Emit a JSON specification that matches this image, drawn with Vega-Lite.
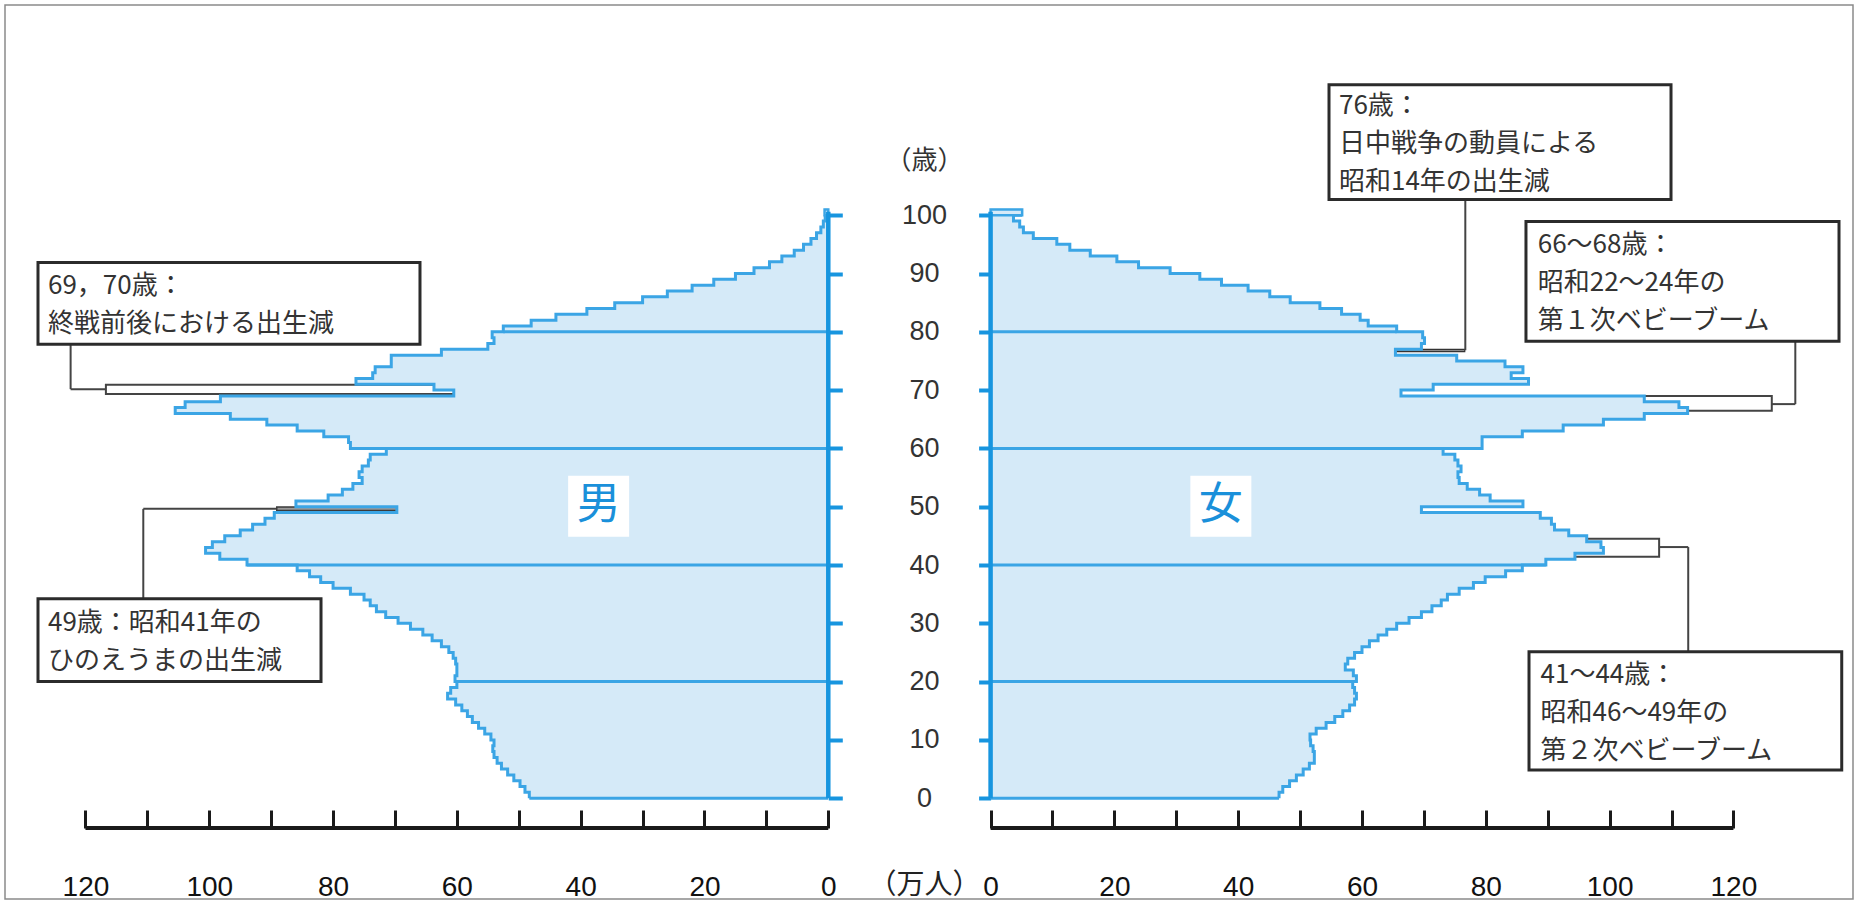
{
  "$schema": "https://vega.github.io/schema/vega-lite/v6.json",
  "width": 1858,
  "height": 901,
  "autosize": {"type": "fit", "contains": "padding"},
  "padding": {"left": 5, "top": 5, "right": 5, "bottom": 0},
  "background": "white",
  "config": {
    "view": {"stroke": "#8a8a8a", "strokeWidth": 1.5},
    "axis": {"grid": false, "domain": false, "labelFont": "Liberation Sans", "titleFont": "Noto Sans CJK JP"}
  },
  "datasets": {
    "pop": [
      {"age": 0, "male": 48.3, "female": 46.6},
      {"age": 1, "male": 49.0, "female": 47.2},
      {"age": 2, "male": 49.8, "female": 48.3},
      {"age": 3, "male": 50.8, "female": 49.4},
      {"age": 4, "male": 51.8, "female": 50.5},
      {"age": 5, "male": 52.8, "female": 51.5},
      {"age": 6, "male": 53.5, "female": 52.3},
      {"age": 7, "male": 54.0, "female": 52.3},
      {"age": 8, "male": 54.2, "female": 52.1},
      {"age": 9, "male": 54.0, "female": 51.7},
      {"age": 10, "male": 54.5, "female": 51.6},
      {"age": 11, "male": 55.5, "female": 52.6},
      {"age": 12, "male": 56.5, "female": 54.2},
      {"age": 13, "male": 57.5, "female": 55.6},
      {"age": 14, "male": 58.3, "female": 56.9},
      {"age": 15, "male": 59.2, "female": 58.0},
      {"age": 16, "male": 60.2, "female": 58.8},
      {"age": 17, "male": 61.5, "female": 59.1},
      {"age": 18, "male": 61.0, "female": 58.8},
      {"age": 19, "male": 60.0, "female": 58.5},
      {"age": 20, "male": 60.3, "female": 59.1},
      {"age": 21, "male": 60.0, "female": 58.6},
      {"age": 22, "male": 60.0, "female": 57.3},
      {"age": 23, "male": 60.2, "female": 57.7},
      {"age": 24, "male": 60.6, "female": 58.8},
      {"age": 25, "male": 61.3, "female": 60.0},
      {"age": 26, "male": 62.5, "female": 61.2},
      {"age": 27, "male": 64.0, "female": 62.6},
      {"age": 28, "male": 65.5, "female": 64.0},
      {"age": 29, "male": 67.5, "female": 65.6},
      {"age": 30, "male": 69.5, "female": 67.6},
      {"age": 31, "male": 71.5, "female": 69.6},
      {"age": 32, "male": 73.0, "female": 71.3},
      {"age": 33, "male": 74.0, "female": 72.8},
      {"age": 34, "male": 75.0, "female": 73.8},
      {"age": 35, "male": 77.2, "female": 75.7},
      {"age": 36, "male": 80.0, "female": 78.0},
      {"age": 37, "male": 82.0, "female": 79.9},
      {"age": 38, "male": 83.8, "female": 83.2},
      {"age": 39, "male": 85.8, "female": 85.9},
      {"age": 40, "male": 93.9, "female": 89.7},
      {"age": 41, "male": 98.3, "female": 94.4},
      {"age": 42, "male": 100.6, "female": 99.0},
      {"age": 43, "male": 99.5, "female": 98.6},
      {"age": 44, "male": 97.5, "female": 96.3},
      {"age": 45, "male": 95.0, "female": 93.4},
      {"age": 46, "male": 93.0, "female": 91.1},
      {"age": 47, "male": 91.0, "female": 90.6},
      {"age": 48, "male": 89.5, "female": 88.8},
      {"age": 49, "male": 69.7, "female": 69.6},
      {"age": 50, "male": 86.0, "female": 86.0},
      {"age": 51, "male": 80.8, "female": 80.7},
      {"age": 52, "male": 78.5, "female": 79.0},
      {"age": 53, "male": 76.8, "female": 77.0},
      {"age": 54, "male": 75.3, "female": 75.7},
      {"age": 55, "male": 75.8, "female": 75.5},
      {"age": 56, "male": 75.3, "female": 76.0},
      {"age": 57, "male": 74.3, "female": 75.5},
      {"age": 58, "male": 74.0, "female": 75.0},
      {"age": 59, "male": 71.4, "female": 73.1},
      {"age": 60, "male": 77.2, "female": 79.4},
      {"age": 61, "male": 77.5, "female": 79.4},
      {"age": 62, "male": 81.5, "female": 85.9},
      {"age": 63, "male": 85.8, "female": 92.5},
      {"age": 64, "male": 90.7, "female": 99.0},
      {"age": 65, "male": 96.6, "female": 105.6},
      {"age": 66, "male": 105.5, "female": 112.6},
      {"age": 67, "male": 103.9, "female": 111.2},
      {"age": 68, "male": 98.2, "female": 105.6},
      {"age": 69, "male": 60.5, "female": 66.3},
      {"age": 70, "male": 63.7, "female": 71.5},
      {"age": 71, "male": 76.3, "female": 86.9},
      {"age": 72, "male": 73.6, "female": 84.1},
      {"age": 73, "male": 73.2, "female": 86.0},
      {"age": 74, "male": 70.6, "female": 83.1},
      {"age": 75, "male": 70.6, "female": 75.3},
      {"age": 76, "male": 62.5, "female": 65.4},
      {"age": 77, "male": 55.0, "female": 69.6},
      {"age": 78, "male": 54.0, "female": 70.1},
      {"age": 79, "male": 54.3, "female": 69.8},
      {"age": 80, "male": 52.5, "female": 65.6},
      {"age": 81, "male": 48.0, "female": 61.0},
      {"age": 82, "male": 44.0, "female": 59.7},
      {"age": 83, "male": 39.0, "female": 56.7},
      {"age": 84, "male": 34.5, "female": 53.2},
      {"age": 85, "male": 30.0, "female": 48.4},
      {"age": 86, "male": 26.0, "female": 45.1},
      {"age": 87, "male": 22.0, "female": 41.6},
      {"age": 88, "male": 18.5, "female": 37.3},
      {"age": 89, "male": 15.0, "female": 33.8},
      {"age": 90, "male": 12.0, "female": 29.0},
      {"age": 91, "male": 9.5, "female": 23.9},
      {"age": 92, "male": 7.5, "female": 20.4},
      {"age": 93, "male": 5.5, "female": 16.1},
      {"age": 94, "male": 4.0, "female": 12.8},
      {"age": 95, "male": 2.8, "female": 10.7},
      {"age": 96, "male": 1.9, "female": 6.9},
      {"age": 97, "male": 1.2, "female": 5.3},
      {"age": 98, "male": 0.8, "female": 4.7},
      {"age": 99, "male": 0.5, "female": 3.7},
      {"age": 100, "male": 0.6, "female": 5.1}
    ]
  },
  "layer": [
    {
      "layer": [
        {
          "data": {"name": "pop"},
          "mark": {"type": "line", "interpolate": "step-before", "stroke": "#3ba5e5", "strokeWidth": 3, "opacity": 0},
          "encoding": {
            "x": {
              "field": "male", "type": "quantitative",
              "scale": {"domain": [133.0, -165.54], "nice": false, "zero": false},
              "axis": {
                "orient": "bottom", "offset": -71, "title": null,
                "values": [0, 10, 20, 30, 40, 50, 60, 70, 80, 90, 100, 110, 120],
                "tickSize": -18, "tickWidth": 3, "tickColor": "#1a1a1a",
                "labelExpr": "datum.value % 20 === 0 ? datum.label : ''",
                "labelFontSize": 28, "labelColor": "#111111", "labelPadding": 63,
                "labelFlush": false, "labelOverlap": false, "domain": false, "grid": false
              }
            },
            "y": {
              "field": "age", "type": "quantitative",
              "scale": {"domain": [-17.29, 136.06], "nice": false, "zero": false},
              "axis": {
                "orient": "right", "offset": -1024.7, "title": null,
                "values": [0, 10, 20, 30, 40, 50, 60, 70, 80, 90, 100],
                "tickSize": 14, "tickWidth": 4, "tickColor": "#1795df",
                "labels": false, "domain": false, "grid": false
              }
            },
            "order": {"field": "age", "type": "quantitative"}
          }
        },
        {
          "data": {"values": [{}]},
          "mark": {"type": "rect", "fill": "white", "stroke": "#444444", "strokeWidth": 2},
          "encoding": {
            "x": {"datum": 60.2, "type": "quantitative"},
            "x2": {"datum": 116.7},
            "y": {"datum": 69.35, "type": "quantitative"},
            "y2": {"datum": 70.9}
          }
        },
        {
          "data": {"values": [{}]},
          "mark": {"type": "rect", "fill": "#9a9a9a", "stroke": "#3a3a3a", "strokeWidth": 1.5},
          "encoding": {
            "x": {"datum": 69.5, "type": "quantitative"},
            "x2": {"datum": 89.1},
            "y": {"datum": 49.35, "type": "quantitative"},
            "y2": {"datum": 49.95}
          }
        },
        {
          "data": {"name": "pop"},
          "mark": {"type": "rect", "fill": "#d5eaf8", "strokeWidth": 0, "y2Offset": -6.8},
          "encoding": {
            "x": {"field": "male", "type": "quantitative"},
            "x2": {"datum": 0},
            "y": {"field": "age", "type": "quantitative"},
            "y2": {"field": "age"}
          }
        },
        {
          "data": {"name": "pop"},
          "mark": {"type": "line", "interpolate": "step-before", "stroke": "#3ba5e5", "strokeWidth": 3},
          "encoding": {
            "x": {"field": "male", "type": "quantitative"},
            "y": {"field": "age", "type": "quantitative"},
            "order": {"field": "age", "type": "quantitative"}
          }
        },
        {
          "data": {"name": "pop"},
          "transform": [{"filter": "datum.age == 100"}],
          "mark": {"type": "rect", "fill": "#d5eaf8", "stroke": "#3ba5e5", "strokeWidth": 2.5},
          "encoding": {
            "x": {"field": "male", "type": "quantitative"},
            "x2": {"datum": 0},
            "y": {"field": "age", "type": "quantitative"},
            "y2": {"datum": 101}
          }
        },
        {
          "data": {"name": "pop"},
          "transform": [{"filter": "datum.age % 20 == 0 && datum.age <= 80"}],
          "mark": {"type": "rule", "stroke": "#3ba5e5", "strokeWidth": 3},
          "encoding": {
            "x": {"field": "male", "type": "quantitative"},
            "x2": {"datum": 0},
            "y": {"field": "age", "type": "quantitative"}
          }
        },
        {
          "data": {"values": [{}]},
          "mark": {"type": "rule", "stroke": "#1795df", "strokeWidth": 4.5},
          "encoding": {
            "x": {"datum": 0, "type": "quantitative"},
            "y": {"datum": 0, "type": "quantitative"},
            "y2": {"datum": 100.6}
          }
        },
        {
          "data": {"values": [{}]},
          "mark": {"type": "rule", "stroke": "#1a1a1a", "strokeWidth": 4},
          "encoding": {
            "x": {"datum": 0, "type": "quantitative"},
            "x2": {"datum": 120},
            "y": {"datum": -5.13, "type": "quantitative"}
          }
        },
        {
          "data": {"values": [{}]},
          "mark": {"type": "rule", "stroke": "#444444", "strokeWidth": 2},
          "encoding": {
            "x": {"datum": 122.4, "type": "quantitative"},
            "y": {"datum": 77.87, "type": "quantitative"},
            "y2": {"datum": 70.17}
          }
        },
        {
          "data": {"values": [{}]},
          "mark": {"type": "rule", "stroke": "#444444", "strokeWidth": 2},
          "encoding": {
            "x": {"datum": 122.4, "type": "quantitative"},
            "x2": {"datum": 116.7},
            "y": {"datum": 70.17, "type": "quantitative"}
          }
        },
        {
          "data": {"values": [{}]},
          "mark": {"type": "rule", "stroke": "#444444", "strokeWidth": 2},
          "encoding": {
            "x": {"datum": 110.66, "type": "quantitative"},
            "y": {"datum": 34.23, "type": "quantitative"},
            "y2": {"datum": 49.63}
          }
        },
        {
          "data": {"values": [{}]},
          "mark": {"type": "rule", "stroke": "#444444", "strokeWidth": 2},
          "encoding": {
            "x": {"datum": 110.66, "type": "quantitative"},
            "x2": {"datum": 89.1},
            "y": {"datum": 49.63, "type": "quantitative"}
          }
        },
        {
          "data": {"values": [{}]},
          "mark": {"type": "rect", "fill": "white", "stroke": "#2b2b2b", "strokeWidth": 3},
          "encoding": {
            "x": {"datum": 127.67, "type": "quantitative"},
            "x2": {"datum": 65.96},
            "y": {"datum": 91.9, "type": "quantitative"},
            "y2": {"datum": 77.87}
          }
        },
        {
          "data": {"values": [{}]},
          "mark": {"type": "rect", "fill": "white", "stroke": "#2b2b2b", "strokeWidth": 3},
          "encoding": {
            "x": {"datum": 127.67, "type": "quantitative"},
            "x2": {"datum": 81.95},
            "y": {"datum": 34.23, "type": "quantitative"},
            "y2": {"datum": 20.02}
          }
        },
        {
          "data": {"values": [{}]},
          "mark": {"type": "text", "text": ["69，70歳：", "終戦前後における出生減"], "align": "left", "baseline": "alphabetic", "font": "Noto Sans CJK JP", "fontSize": 26, "lineHeight": 38, "fill": "#333333"},
          "encoding": {
            "x": {"datum": 126.06, "type": "quantitative"},
            "y": {"datum": 86.5, "type": "quantitative"}
          }
        },
        {
          "data": {"values": [{}]},
          "mark": {"type": "text", "text": ["49歳：昭和41年の", "ひのえうまの出生減"], "align": "left", "baseline": "alphabetic", "font": "Noto Sans CJK JP", "fontSize": 26, "lineHeight": 38, "fill": "#333333"},
          "encoding": {
            "x": {"datum": 126.06, "type": "quantitative"},
            "y": {"datum": 28.73, "type": "quantitative"}
          }
        },
        {
          "data": {"values": [{}]},
          "mark": {"type": "point", "shape": "square", "size": 3721, "filled": true, "fill": "white", "opacity": 1, "strokeWidth": 0},
          "encoding": {
            "x": {"datum": 37.1, "type": "quantitative"},
            "y": {"datum": 50.06, "type": "quantitative"}
          }
        },
        {
          "data": {"values": [{}]},
          "mark": {"type": "text", "text": "男", "align": "center", "baseline": "middle", "font": "Noto Sans CJK JP", "fontSize": 44, "fill": "#1a90da"},
          "encoding": {
            "x": {"datum": 37.1, "type": "quantitative"},
            "y": {"datum": 50.06, "type": "quantitative"}
          }
        }
      ]
    },
    {
      "layer": [
        {
          "data": {"name": "pop"},
          "mark": {"type": "line", "interpolate": "step-before", "stroke": "#3ba5e5", "strokeWidth": 3, "opacity": 0},
          "encoding": {
            "x": {
              "field": "female", "type": "quantitative",
              "scale": {"domain": [-159.22, 139.32], "nice": false, "zero": false},
              "axis": {
                "orient": "bottom", "offset": -71,
                "title": "（万人）", "titleX": 919, "titleY": 57, "titleAngle": 0,
                "titleAlign": "center", "titleBaseline": "middle", "titleFontSize": 28,
                "titleFontWeight": "normal", "titleColor": "#222222", "titleFont": "Noto Sans CJK JP",
                "values": [0, 10, 20, 30, 40, 50, 60, 70, 80, 90, 100, 110, 120],
                "tickSize": -18, "tickWidth": 3, "tickColor": "#1a1a1a",
                "labelExpr": "datum.value % 20 === 0 ? datum.label : ''",
                "labelFontSize": 28, "labelColor": "#111111", "labelPadding": 63,
                "labelFlush": false, "labelOverlap": false, "domain": false, "grid": false
              }
            },
            "y": {
              "field": "age", "type": "quantitative",
              "scale": {"domain": [-17.29, 136.06], "nice": false, "zero": false},
              "axis": {
                "orient": "left", "offset": -985.6,
                "title": "（歳）", "titleX": -66.6, "titleY": 155, "titleAngle": 0,
                "titleAlign": "center", "titleBaseline": "middle", "titleFontSize": 26,
                "titleFontWeight": "normal", "titleColor": "#333333", "titleFont": "Noto Sans CJK JP",
                "values": [0, 10, 20, 30, 40, 50, 60, 70, 80, 90, 100],
                "tickSize": 12, "tickWidth": 4, "tickColor": "#1795df",
                "labelAlign": "center", "labelBaseline": "middle", "labelPadding": 54.6,
                "labelFontSize": 27, "labelColor": "#333333", "domain": false, "grid": false
              }
            },
            "order": {"field": "age", "type": "quantitative"}
          }
        },
        {
          "data": {"values": [{}]},
          "mark": {"type": "rect", "fill": "#8a8a8a", "stroke": "#333333", "strokeWidth": 1.2},
          "encoding": {
            "x": {"datum": 65.2, "type": "quantitative"},
            "x2": {"datum": 76.6},
            "y": {"datum": 76.6, "type": "quantitative"},
            "y2": {"datum": 77.0}
          }
        },
        {
          "data": {"values": [{}]},
          "mark": {"type": "rect", "fill": "white", "stroke": "#444444", "strokeWidth": 2},
          "encoding": {
            "x": {"datum": 105.3, "type": "quantitative"},
            "x2": {"datum": 126.2},
            "y": {"datum": 66.46, "type": "quantitative"},
            "y2": {"datum": 68.97}
          }
        },
        {
          "data": {"values": [{}]},
          "mark": {"type": "rect", "fill": "white", "stroke": "#444444", "strokeWidth": 2},
          "encoding": {
            "x": {"datum": 94.2, "type": "quantitative"},
            "x2": {"datum": 108.0},
            "y": {"datum": 41.4, "type": "quantitative"},
            "y2": {"datum": 44.5}
          }
        },
        {
          "data": {"name": "pop"},
          "mark": {"type": "rect", "fill": "#d5eaf8", "strokeWidth": 0, "y2Offset": -6.8},
          "encoding": {
            "x": {"field": "female", "type": "quantitative"},
            "x2": {"datum": 0},
            "y": {"field": "age", "type": "quantitative"},
            "y2": {"field": "age"}
          }
        },
        {
          "data": {"name": "pop"},
          "mark": {"type": "line", "interpolate": "step-before", "stroke": "#3ba5e5", "strokeWidth": 3},
          "encoding": {
            "x": {"field": "female", "type": "quantitative"},
            "y": {"field": "age", "type": "quantitative"},
            "order": {"field": "age", "type": "quantitative"}
          }
        },
        {
          "data": {"name": "pop"},
          "transform": [{"filter": "datum.age == 100"}],
          "mark": {"type": "rect", "fill": "#d5eaf8", "stroke": "#3ba5e5", "strokeWidth": 2.5},
          "encoding": {
            "x": {"field": "female", "type": "quantitative"},
            "x2": {"datum": 0},
            "y": {"field": "age", "type": "quantitative"},
            "y2": {"datum": 101}
          }
        },
        {
          "data": {"name": "pop"},
          "transform": [{"filter": "datum.age % 20 == 0 && datum.age <= 80"}],
          "mark": {"type": "rule", "stroke": "#3ba5e5", "strokeWidth": 3},
          "encoding": {
            "x": {"field": "female", "type": "quantitative"},
            "x2": {"datum": 0},
            "y": {"field": "age", "type": "quantitative"}
          }
        },
        {
          "data": {"values": [{}]},
          "mark": {"type": "rule", "stroke": "#1795df", "strokeWidth": 4.5},
          "encoding": {
            "x": {"datum": 0, "type": "quantitative"},
            "y": {"datum": 0, "type": "quantitative"},
            "y2": {"datum": 100.6}
          }
        },
        {
          "data": {"values": [{}]},
          "mark": {"type": "rule", "stroke": "#1a1a1a", "strokeWidth": 4},
          "encoding": {
            "x": {"datum": 0, "type": "quantitative"},
            "x2": {"datum": 120},
            "y": {"datum": -5.13, "type": "quantitative"}
          }
        },
        {
          "data": {"values": [{}]},
          "mark": {"type": "rule", "stroke": "#444444", "strokeWidth": 2},
          "encoding": {
            "x": {"datum": 76.69, "type": "quantitative"},
            "y": {"datum": 102.69, "type": "quantitative"},
            "y2": {"datum": 76.84}
          }
        },
        {
          "data": {"values": [{}]},
          "mark": {"type": "rule", "stroke": "#444444", "strokeWidth": 2},
          "encoding": {
            "x": {"datum": 130.0, "type": "quantitative"},
            "y": {"datum": 78.38, "type": "quantitative"},
            "y2": {"datum": 67.6}
          }
        },
        {
          "data": {"values": [{}]},
          "mark": {"type": "rule", "stroke": "#444444", "strokeWidth": 2},
          "encoding": {
            "x": {"datum": 130.0, "type": "quantitative"},
            "x2": {"datum": 126.2},
            "y": {"datum": 67.6, "type": "quantitative"}
          }
        },
        {
          "data": {"values": [{}]},
          "mark": {"type": "rule", "stroke": "#444444", "strokeWidth": 2},
          "encoding": {
            "x": {"datum": 108.0, "type": "quantitative"},
            "x2": {"datum": 112.7},
            "y": {"datum": 43.08, "type": "quantitative"}
          }
        },
        {
          "data": {"values": [{}]},
          "mark": {"type": "rule", "stroke": "#444444", "strokeWidth": 2},
          "encoding": {
            "x": {"datum": 112.7, "type": "quantitative"},
            "y": {"datum": 43.08, "type": "quantitative"},
            "y2": {"datum": 25.11}
          }
        },
        {
          "data": {"values": [{}]},
          "mark": {"type": "rect", "fill": "white", "stroke": "#2b2b2b", "strokeWidth": 3},
          "encoding": {
            "x": {"datum": 54.67, "type": "quantitative"},
            "x2": {"datum": 109.92},
            "y": {"datum": 122.37, "type": "quantitative"},
            "y2": {"datum": 102.69}
          }
        },
        {
          "data": {"values": [{}]},
          "mark": {"type": "rect", "fill": "white", "stroke": "#2b2b2b", "strokeWidth": 3},
          "encoding": {
            "x": {"datum": 86.49, "type": "quantitative"},
            "x2": {"datum": 137.06},
            "y": {"datum": 98.92, "type": "quantitative"},
            "y2": {"datum": 78.38}
          }
        },
        {
          "data": {"values": [{}]},
          "mark": {"type": "rect", "fill": "white", "stroke": "#2b2b2b", "strokeWidth": 3},
          "encoding": {
            "x": {"datum": 86.98, "type": "quantitative"},
            "x2": {"datum": 137.5},
            "y": {"datum": 25.11, "type": "quantitative"},
            "y2": {"datum": 4.84}
          }
        },
        {
          "data": {"values": [{}]},
          "mark": {"type": "text", "text": ["76歳：", "日中戦争の動員による", "昭和14年の出生減"], "align": "left", "baseline": "alphabetic", "font": "Noto Sans CJK JP", "fontSize": 26, "lineHeight": 38, "fill": "#333333"},
          "encoding": {
            "x": {"datum": 56.28, "type": "quantitative"},
            "y": {"datum": 117.39, "type": "quantitative"}
          }
        },
        {
          "data": {"values": [{}]},
          "mark": {"type": "text", "text": ["66～68歳：", "昭和22～24年の", "第１次ベビーブーム"], "align": "left", "baseline": "alphabetic", "font": "Noto Sans CJK JP", "fontSize": 26, "lineHeight": 38, "fill": "#333333"},
          "encoding": {
            "x": {"datum": 88.39, "type": "quantitative"},
            "y": {"datum": 93.51, "type": "quantitative"}
          }
        },
        {
          "data": {"values": [{}]},
          "mark": {"type": "text", "text": ["41～44歳：", "昭和46～49年の", "第２次ベビーブーム"], "align": "left", "baseline": "alphabetic", "font": "Noto Sans CJK JP", "fontSize": 26, "lineHeight": 38, "fill": "#333333"},
          "encoding": {
            "x": {"datum": 88.85, "type": "quantitative"},
            "y": {"datum": 19.84, "type": "quantitative"}
          }
        },
        {
          "data": {"values": [{}]},
          "mark": {"type": "point", "shape": "square", "size": 3721, "filled": true, "fill": "white", "opacity": 1, "strokeWidth": 0},
          "encoding": {
            "x": {"datum": 37.2, "type": "quantitative"},
            "y": {"datum": 50.06, "type": "quantitative"}
          }
        },
        {
          "data": {"values": [{}]},
          "mark": {"type": "text", "text": "女", "align": "center", "baseline": "middle", "font": "Noto Sans CJK JP", "fontSize": 44, "fill": "#1a90da"},
          "encoding": {
            "x": {"datum": 37.2, "type": "quantitative"},
            "y": {"datum": 50.06, "type": "quantitative"}
          }
        }
      ]
    }
  ],
  "resolve": {"scale": {"x": "independent", "y": "independent"}, "axis": {"x": "independent", "y": "independent"}}
}
